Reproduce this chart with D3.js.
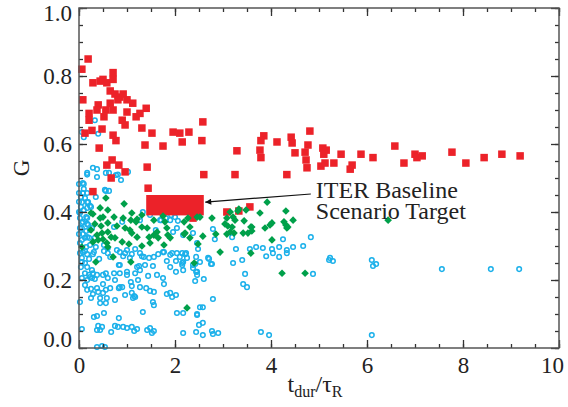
<!DOCTYPE html>
<html>
<head>
<meta charset="utf-8">
<script src="https://cdn.jsdelivr.net/npm/d3@7"></script>
<style>
body{margin:0;background:#fff}
text{font-family:"Liberation Serif","Times New Roman",serif;fill:#222}
</style>
</head>
<body>
<div id="chart"></div>
<script>
// values: [t_dur/tau_R, G]
const xTicks = [0, 2, 4, 6, 8, 10];
const yTicks = [0, 0.2, 0.4, 0.6, 0.8, 1.0];

const redPoints = [
[0.19,0.85],[0.06,0.82],[0.08,0.73],[0.29,0.78],[0.44,0.785],[0.50,0.79],[0.58,0.78],[0.71,0.81],[0.71,0.79],
[0.65,0.756],[0.75,0.747],[0.85,0.738],[0.92,0.747],[0.81,0.73],[1.0,0.73],[1.12,0.72],[0.21,0.69],[0.21,0.67],
[0.40,0.715],[0.375,0.70],[0.56,0.70],[0.65,0.72],[0.71,0.70],[0.52,0.68],[1.0,0.694],[1.19,0.68],[1.27,0.69],
[1.40,0.705],[0.90,0.67],[0.96,0.656],[1.31,0.647],[1.52,0.632],[1.96,0.635],[2.10,0.632],[2.29,0.635],
[0.125,0.632],[0.27,0.64],[0.48,0.644],[0.71,0.626],[0.42,0.588],[0.77,0.61],[1.375,0.597],[1.75,0.594],
[2.15,0.606],[0.69,0.553],[0.58,0.538],[0.83,0.538],[0.96,0.518],[0.67,0.50],[1.42,0.532],[1.44,0.47],
[0.29,0.46],[2.58,0.665],[2.56,0.61],[3.29,0.58],[3.85,0.624],[3.79,0.61],[4.125,0.606],[4.42,0.62],
[4.44,0.603],[4.81,0.638],[4.77,0.597],[3.77,0.582],[3.79,0.56],[4.5,0.574],[4.71,0.576],[4.73,0.553],
[4.75,0.53],[5.08,0.588],[5.15,0.582],[5.10,0.57],[5.04,0.535],[5.125,0.544],[5.31,0.544],[5.46,0.57],
[5.875,0.57],[6.125,0.56],[5.69,0.538],[5.65,0.526],[2.60,0.51],[3.25,0.51],[4.33,0.51],[3.08,0.40],
[3.33,0.403],[3.56,0.415],[6.58,0.594],[6.77,0.544],[7.0,0.57],[7.04,0.56],[7.15,0.565],[7.77,0.576],
[8.06,0.544],[8.44,0.56],[8.81,0.57],[9.19,0.565],[2.375,0.382]
];

const greenPoints = [
[0.56,0.441],[0.44,0.412],[0.60,0.406],[0.94,0.424],[0.29,0.394],[0.44,0.382],[0.50,0.385],[0.73,0.385],
[0.92,0.382],[1.10,0.397],[1.31,0.391],[1.08,0.376],[1.19,0.371],[0.60,0.368],[0.33,0.365],[0.46,0.359],
[0.79,0.359],[0.96,0.353],[1.31,0.356],[1.42,0.353],[1.56,0.376],[1.79,0.371],[1.83,0.353],[1.625,0.341],
[0.25,0.347],[0.375,0.332],[0.48,0.338],[0.60,0.341],[0.67,0.326],[0.50,0.32],[0.75,0.324],[1.06,0.347],
[1.10,0.338],[1.21,0.326],[1.46,0.326],[1.56,0.332],[1.65,0.324],[1.85,0.332],[1.90,0.324],[2.21,0.338],
[2.19,0.371],[2.27,0.382],[0.40,0.318],[0.58,0.309],[0.90,0.312],[1.04,0.306],[1.31,0.30],[1.48,0.309],
[1.77,0.303],[0.06,0.297],[0.60,0.297],[0.29,0.312],[2.46,0.385],[2.52,0.385],[2.77,0.382],[2.31,0.356],
[2.19,0.335],[2.31,0.324],[2.58,0.329],[2.85,0.335],[3.08,0.382],[3.15,0.40],[3.21,0.385],[3.25,0.376],
[3.31,0.403],[3.48,0.406],[3.92,0.429],[3.77,0.397],[3.44,0.374],[3.04,0.365],[3.10,0.359],[3.19,0.356],
[3.15,0.341],[3.23,0.338],[3.08,0.335],[3.42,0.338],[3.52,0.338],[3.60,0.356],[3.60,0.344],[3.875,0.353],
[3.98,0.362],[4.02,0.368],[4.31,0.403],[4.27,0.371],[4.31,0.362],[4.35,0.356],[4.46,0.376],[4.02,0.318],
[2.48,0.306],[2.94,0.282],[3.58,0.279],[2.40,0.25],[3.33,0.409],[4.33,0.353],[3.58,0.356],[6.44,0.376],
[4.23,0.22],[4.71,0.22],[0.35,0.253],[0.71,0.268],[1.08,0.253],[2.25,0.118],[0.25,0.397],[1.21,0.379],
[1.75,0.388]
];

const cyanPoints = [
[0.33,0.67],[0.40,0.63],[0.06,0.635],[0.10,0.62],[0.17,0.515],[0.29,0.53],[0.375,0.526],[0.375,0.503],
[0.56,0.515],[0.625,0.515],[0.77,0.509],[1.02,0.518],[0.875,0.494],[0.08,0.485],[0.10,0.468],[0.08,0.456],
[0.17,0.456],[0.04,0.444],[0.06,0.429],[0.125,0.441],[0.17,0.429],[0.04,0.415],[0.10,0.406],[0.17,0.412],
[0.23,0.418],[0.35,0.444],[0.56,0.462],[0.625,0.462],[0.02,0.397],[0.15,0.385],[0.08,0.371],[0.17,0.365],
[0.06,0.353],[0.15,0.344],[0.23,0.347],[0.08,0.335],[0.125,0.324],[0.21,0.324],[0.02,0.309],[0.15,0.297],
[0.23,0.303],[0.08,0.282],[0.17,0.276],[0.06,0.265],[0.21,0.262],[0.125,0.25],[0.04,0.238],[0.35,0.297],
[0.29,0.276],[0.52,0.303],[0.60,0.294],[0.65,0.268],[0.42,0.262],[0.85,0.282],[0.92,0.27],[1.0,0.288],
[1.06,0.265],[1.17,0.291],[1.27,0.279],[1.35,0.268],[1.46,0.265],[1.56,0.268],[1.65,0.276],[1.75,0.282],
[1.90,0.274],[2.04,0.279],[2.10,0.268],[2.25,0.265],[1.60,0.347],[1.69,0.376],[1.81,0.382],[1.90,0.376],
[1.96,0.341],[2.04,0.353],[2.17,0.332],[2.375,0.338],[2.46,0.309],[0.85,0.244],[1.21,0.238],[1.54,0.241],
[1.90,0.238],[2.15,0.25],[2.42,0.247],
[0.06,0.253],[0.17,0.238],[0.27,0.229],[0.125,0.22],[0.21,0.215],[0.29,0.22],[0.06,0.206],[0.17,0.20],
[0.27,0.206],[0.375,0.215],[0.56,0.22],[0.60,0.206],[0.73,0.22],[0.83,0.244],[0.85,0.22],[1.0,0.224],
[1.0,0.215],[1.17,0.22],[1.25,0.241],[1.375,0.244],[1.44,0.212],[1.625,0.215],[1.75,0.206],[1.77,0.188],
[2.02,0.224],[2.17,0.229],[2.46,0.224],[2.42,0.197],[0.17,0.171],[0.25,0.174],[0.375,0.176],[0.50,0.188],
[0.56,0.171],[0.65,0.176],[0.85,0.179],[0.90,0.179],[0.96,0.156],[1.10,0.162],[1.15,0.153],[1.27,0.179],
[1.40,0.176],[1.48,0.168],[1.56,0.165],[1.83,0.159],[1.94,0.15],[2.02,0.156],[0.50,0.162],[0.44,0.147],
[0.58,0.147],[0.29,0.159],[0.25,0.147],[0.02,0.135],[0.75,0.141],[1.125,0.147],[1.54,0.135],[1.56,0.126],
[0.44,0.132],[0.56,0.132],[2.17,0.103],[2.04,0.103],[1.33,0.106],[2.46,0.097],[2.5,0.068],[0.31,0.091],
[0.375,0.094],[0.52,0.103],[0.06,0.056],[0.40,0.065],[0.375,0.053],[0.44,0.053],[0.48,0.062],[0.67,0.047],
[0.75,0.065],[0.81,0.062],[0.92,0.062],[1.0,0.059],[1.10,0.062],[1.15,0.05],[1.21,0.056],[1.42,0.053],
[1.48,0.059],[1.52,0.044],[1.56,0.05],[2.17,0.044],[2.44,0.047],[0.375,0.003],[0.48,0.006],[0.54,0.003],
[2.375,0.244],[2.44,0.224],[2.46,0.215],[2.60,0.203],[2.52,0.253],[2.75,0.247],[3.21,0.25],[3.40,0.259],
[3.46,0.218],[3.42,0.188],[3.5,0.179],[2.79,0.144],[2.52,0.12],[2.58,0.12],[2.46,0.10],[2.58,0.074],
[2.58,0.038],[2.77,0.05],[2.79,0.041],[2.90,0.044],[3.79,0.047],[3.96,0.038],[4.875,0.218],[5.21,0.259],
[5.29,0.256],[6.10,0.259],[6.125,0.241],[6.19,0.247],[6.10,0.038],[7.56,0.232],[8.58,0.232],[9.17,0.232],
[2.79,0.35],[2.83,0.32],[3.19,0.326],[2.44,0.268],[2.69,0.265],[3.56,0.291],[3.69,0.297],[3.83,0.294],
[4.02,0.291],[3.90,0.27],[4.04,0.279],[4.17,0.297],[4.33,0.288],[4.33,0.279],[4.46,0.297],[4.67,0.30],
[4.83,0.326],[4.25,0.32],[4.17,0.268],[5.23,0.265],[2.15,0.279],[2.23,0.279],[2.48,0.291],[3.27,0.291],
[2.71,0.262],[2.77,0.247],[2.15,0.244],[2.375,0.235],
[0.17,0.51],[0.81,0.51],[0.0,0.482],[0.10,0.482],[0.0,0.456],[0.54,0.465],[0.0,0.43],[0.19,0.429],
[0.25,0.415],[0.0,0.40],[0.02,0.382],[0.17,0.382],[0.06,0.368],[0.19,0.362],[0.02,0.353],[0.27,0.353],
[0.0,0.335],[0.17,0.326],[0.06,0.318],[0.33,0.324],[0.125,0.285],[0.02,0.279],[0.31,0.282],[0.52,0.285],
[0.60,0.279],[0.79,0.288],[0.96,0.279],[1.10,0.276],[1.31,0.27],[1.77,0.282],[1.94,0.279],[2.21,0.276],
[1.33,0.40],[1.48,0.391],[1.71,0.376],[1.92,0.391],[2.0,0.385],[2.06,0.374],[0.73,0.356],[0.90,0.371],
[1.27,0.376],
[0.83,0.088],[1.90,0.162],[1.83,0.256],[2.02,0.256],[2.17,0.253],[1.10,0.182],[1.23,0.20],[1.27,0.229],
[0.75,0.20],[0.50,0.215],[0.33,0.203],[0.23,0.209],[0.40,0.165],[0.125,0.185],[0.83,0.176],[1.17,0.15],
[1.08,0.194]
];

// ITER baseline scenario target box
const targetX = [1.4, 2.6];
const targetG = [0.39, 0.45];
const arrowFrom = [4.83, 0.453];
const arrowTo = [2.63, 0.429];
const noteLines = ["ITER Baseline", "Scenario Target"];

const W = 568, H = 407;
const margin = {top: 8, right: 9, bottom: 59, left: 79};

const svg = d3.select("#chart").append("svg")
  .attr("width", W).attr("height", H);

const x = d3.scaleLinear().domain([0, 10]).range([margin.left, W - margin.right]);
const y = d3.scaleLinear().domain([0, 1]).range([H - margin.bottom, margin.top]);

const red = "#ec2229", green = "#00a04a", cyan = "#1ab0ea";

// points (cyan underneath, then target box, red, green)
svg.append("g").selectAll("circle").data(cyanPoints).join("circle")
  .attr("cx", d => x(d[0])).attr("cy", d => y(d[1])).attr("r", 2.3)
  .attr("fill", "none").attr("stroke", cyan).attr("stroke-width", 1.5);

svg.append("rect")
  .attr("x", x(targetX[0])).attr("y", y(targetG[1]))
  .attr("width", x(targetX[1]) - x(targetX[0]))
  .attr("height", y(targetG[0]) - y(targetG[1]))
  .attr("fill", red);

const sq = 7.5;
svg.append("g").selectAll("rect").data(redPoints).join("rect")
  .attr("x", d => x(d[0]) - sq / 2).attr("y", d => y(d[1]) - sq / 2)
  .attr("width", sq).attr("height", sq).attr("fill", red);

const dm = 3.8;
svg.append("g").selectAll("path").data(greenPoints).join("path")
  .attr("d", d => {
    const cx = x(d[0]), cy = y(d[1]);
    return `M${cx},${cy - dm}L${cx + dm},${cy}L${cx},${cy + dm}L${cx - dm},${cy}Z`;
  })
  .attr("fill", green);

// axes, ticks pointing inward
const axisColor = "#333";
function styleAxis(g) {
  g.select(".domain").remove();
  g.selectAll("line").attr("stroke", axisColor).attr("stroke-width", 1.3);
  g.selectAll("text").style("font-size", "23px").attr("fill", "#222");
}
const xMinor = d3.range(0, 10.01, 0.5);
const yMinor = d3.range(0, 1.001, 0.05);

const gBottom = svg.append("g").attr("transform", `translate(0,${y(0)})`)
  .call(d3.axisBottom(x).tickValues(xTicks).tickFormat(d3.format("d")).tickSize(-8).tickSizeOuter(0).tickPadding(9))
  .call(styleAxis);
gBottom.selectAll("text").filter(d => d === 10).attr("dx", "-7");
svg.append("g").attr("transform", `translate(0,${y(0)})`)
  .call(d3.axisBottom(x).tickValues(xMinor).tickFormat("").tickSize(-4).tickSizeOuter(0)).call(styleAxis);
svg.append("g").attr("transform", `translate(0,${y(1)})`)
  .call(d3.axisTop(x).tickValues(xTicks).tickFormat("").tickSize(-8).tickSizeOuter(0)).call(styleAxis);
svg.append("g").attr("transform", `translate(0,${y(1)})`)
  .call(d3.axisTop(x).tickValues(xMinor).tickFormat("").tickSize(-4).tickSizeOuter(0)).call(styleAxis);

const gLeft = svg.append("g").attr("transform", `translate(${x(0)},0)`)
  .call(d3.axisLeft(y).tickValues(yTicks).tickFormat(d3.format(".1f")).tickSize(-8).tickSizeOuter(0).tickPadding(7))
  .call(styleAxis);
gLeft.selectAll("text").filter(d => d === 1).attr("dy", "0.55em");
gLeft.selectAll("text").filter(d => d === 0).attr("dy", "-0.05em");
svg.append("g").attr("transform", `translate(${x(0)},0)`)
  .call(d3.axisLeft(y).tickValues(yMinor).tickFormat("").tickSize(-4).tickSizeOuter(0)).call(styleAxis);
svg.append("g").attr("transform", `translate(${x(10)},0)`)
  .call(d3.axisRight(y).tickValues(yTicks).tickFormat("").tickSize(-8).tickSizeOuter(0)).call(styleAxis);
svg.append("g").attr("transform", `translate(${x(10)},0)`)
  .call(d3.axisRight(y).tickValues(yMinor).tickFormat("").tickSize(-4).tickSizeOuter(0)).call(styleAxis);

// frame
svg.append("rect")
  .attr("x", x(0)).attr("y", y(1))
  .attr("width", x(10) - x(0)).attr("height", y(0) - y(1))
  .attr("fill", "none").attr("stroke", "#555").attr("stroke-width", 1.5);

// axis titles
const xt = svg.append("text").attr("x", (x(0) + x(10)) / 2 - 4).attr("y", 392)
  .attr("text-anchor", "middle").style("font-size", "24px");
xt.append("tspan").text("t");
xt.append("tspan").attr("dy", 5).style("font-size", "16px").text("dur");
xt.append("tspan").attr("dy", -5).text("/τ");
xt.append("tspan").attr("dy", 5).style("font-size", "16px").text("R");

svg.append("text")
  .attr("transform", `translate(29,${(y(0) + y(1)) / 2 - 10}) rotate(-90)`)
  .attr("text-anchor", "middle").style("font-size", "23px").text("G");

// annotation arrow
svg.append("defs").append("marker")
  .attr("id", "head").attr("viewBox", "0 0 10 10").attr("refX", 10).attr("refY", 5)
  .attr("markerWidth", 8).attr("markerHeight", 6).attr("markerUnits", "userSpaceOnUse")
  .attr("orient", "auto")
  .append("path").attr("d", "M0,0L10,5L0,10Z").attr("fill", "#111");

svg.append("line")
  .attr("x1", x(arrowFrom[0])).attr("y1", y(arrowFrom[1]))
  .attr("x2", x(arrowTo[0])).attr("y2", y(arrowTo[1]))
  .attr("stroke", "#111").attr("stroke-width", 1.2)
  .attr("marker-end", "url(#head)");

svg.append("g").selectAll("text").data(noteLines).join("text")
  .attr("x", x(arrowFrom[0]) + 5)
  .attr("y", (d, i) => y(arrowFrom[1]) + 4 + i * 21)
  .style("font-size", "24px")
  .text(d => d);
</script>
</body>
</html>
